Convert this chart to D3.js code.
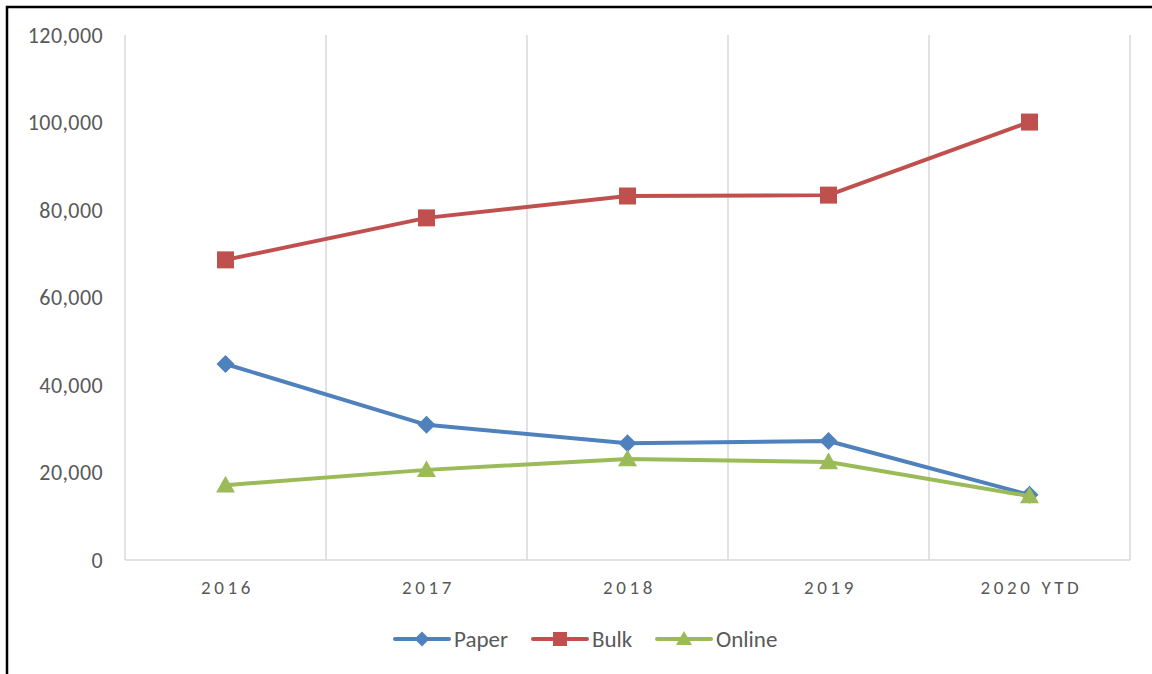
<!DOCTYPE html>
<html lang="en">
<head>
  <meta charset="utf-8">
  <script src="https://d3js.org/d3.v7.min.js"></script>
  <style>
    body { margin: 0; background: #fff; }
    text { font-family: Calibri, Carlito, "Liberation Sans", "Open Sans", sans-serif; }
  </style>
</head>
<body>
  <div id="my_dataviz"></div>
  <script>
    // chart data
    const years = ["2016", "2017", "2018", "2019", "2020 YTD"];
    const paper = [44800, 30900, 26700, 27200, 14900];
    const bulk = [68600, 78200, 83200, 83400, 100100];
    const online = [17100, 20600, 23100, 22400, 14600];
    const yTicks = [0, 20000, 40000, 60000, 80000, 100000, 120000];

    // marker shapes, w = full width in px
    const diamond = w => `M0,${-w/2}L${w/2},0L0,${w/2}L${-w/2},0Z`;
    const square = w => `M${-w/2},${-w/2}H${w/2}V${w/2}H${-w/2}Z`;
    const triangle = w => `M0,${-w*0.5}L${w/2},${w*0.38}L${-w/2},${w*0.38}Z`;

    const series = [
      {name: "Paper", values: paper, color: "#4f81bd", shape: diamond, size: 18},
      {name: "Bulk", values: bulk, color: "#c0504d", shape: square, size: 17},
      {name: "Online", values: online, color: "#9bbb59", shape: triangle, size: 19}
    ];

    const W = 1152, H = 674;
    const margin = {top: 35, right: 22, bottom: 114, left: 125},
        width = W - margin.left - margin.right,
        height = H - margin.top - margin.bottom;

    const root = d3.select("#my_dataviz")
      .append("svg")
        .attr("width", W)
        .attr("height", H);

    // outer frame (only top and left visible)
    root.append("rect")
      .attr("x", 7).attr("y", 7)
      .attr("width", W + 10).attr("height", H + 10)
      .attr("fill", "none")
      .attr("stroke", "#000")
      .attr("stroke-width", 2.5);

    const svg = root.append("g")
      .attr("transform", `translate(${margin.left},${margin.top})`);

    const x = d3.scaleBand()
      .range([0, width])
      .domain(years);

    const y = d3.scaleLinear()
      .domain([0, 120000])
      .range([height, 0]);

    // vertical gridlines at band edges
    const edges = years.map(d => x(d)).concat([width]);
    svg.selectAll(".vgrid")
      .data(edges)
      .join("line")
        .attr("x1", d => d).attr("x2", d => d)
        .attr("y1", 0).attr("y2", height)
        .attr("stroke", "#d9d9d9")
        .attr("stroke-width", 1.5);

    // bottom axis line
    svg.append("line")
      .attr("x1", 0).attr("x2", width)
      .attr("y1", height).attr("y2", height)
      .attr("stroke", "#d9d9d9")
      .attr("stroke-width", 1.5);

    // Y labels
    svg.selectAll(".ylab")
      .data(yTicks)
      .join("text")
        .attr("x", -22)
        .attr("y", d => y(d))
        .attr("dy", "0.35em")
        .attr("text-anchor", "end")
        .style("font-size", "22px")
        .style("letter-spacing", "0.4px")
        .attr("fill", "#595959")
        .text(d => d3.format(",")(d));

    // X labels
    svg.selectAll(".xlab")
      .data(years)
      .join("text")
        .attr("x", d => x(d) + x.bandwidth() / 2 + 2)
        .attr("y", height + 34)
        .attr("text-anchor", "middle")
        .style("font-size", "19px")
        .style("letter-spacing", "3.6px")
        .attr("fill", "#595959")
        .text(d => d);

    const line = d3.line()
      .x((d, i) => x(years[i]) + x.bandwidth() / 2)
      .y(d => y(d));

    series.forEach(s => {
      svg.append("path")
        .datum(s.values)
        .attr("fill", "none")
        .attr("stroke", s.color)
        .attr("stroke-width", 4)
        .attr("stroke-linejoin", "round")
        .attr("d", line);

      svg.selectAll(null)
        .data(s.values)
        .join("path")
          .attr("transform", (d, i) => `translate(${x(years[i]) + x.bandwidth() / 2},${y(d)})`)
          .attr("d", s.shape(s.size))
          .attr("fill", s.color);
    });

    // legend
    const legendX = [395, 533, 657];
    const legend = root.append("g");
    series.forEach((s, i) => {
      const g = legend.append("g").attr("transform", `translate(${legendX[i]},639)`);
      g.append("line")
        .attr("x1", 0).attr("x2", 54)
        .attr("stroke", s.color)
        .attr("stroke-width", 4)
        .attr("stroke-linecap", "round");
      g.append("path")
        .attr("transform", "translate(27,0)")
        .attr("d", s.shape(s.size - 3))
        .attr("fill", s.color);
      g.append("text")
        .attr("x", 59)
        .attr("dy", "0.35em")
        .style("font-size", "23px")
        .attr("fill", "#595959")
        .text(s.name);
    });
  </script>
</body>
</html>
